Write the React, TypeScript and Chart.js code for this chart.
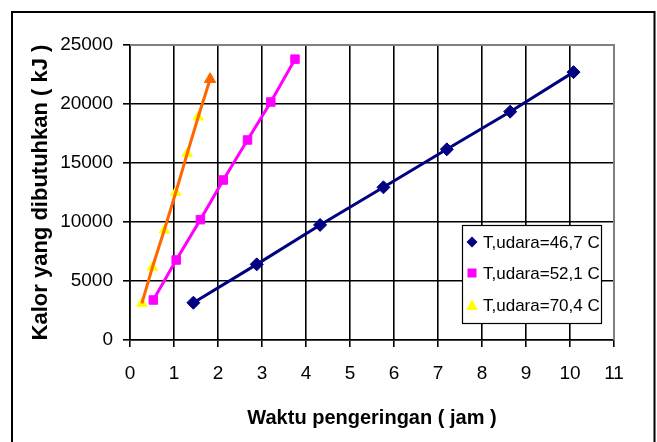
import React, { useEffect, useRef } from "react";
import { Chart, registerables } from "chart.js";

Chart.register(...registerables);

// Series 1: T,udara = 46,7 C
const hoursA = [1.44, 2.88, 4.32, 5.76, 7.2, 8.64, 10.08];
const kalorA = [3160, 6410, 9750, 12940, 16160, 19350, 22700];
// Series 2: T,udara = 52,1 C
const hoursB = [0.53, 1.05, 1.6, 2.12, 2.67, 3.2, 3.75];
const kalorB = [3390, 6780, 10200, 13560, 16950, 20170, 23800];
// Series 3: T,udara = 70,4 C
const hoursC = [0.27, 0.51, 0.78, 1.04, 1.3, 1.55, 1.82];
const kalorC = [3110, 6160, 9320, 12500, 15800, 18900, 22100];

const seriesLabels = ["T,udara=46,7 C", "T,udara=52,1 C", "T,udara=70,4 C"];
const xTitle = "Waktu pengeringan ( jam )";
const yTitle = "Kalor yang dibutuhkan ( kJ )";

const FONT = "'Liberation Sans', Arial, sans-serif";
const NAVY = "#000080";
const MAGENTA = "#FF00FF";
const YELLOW = "#FFFF00";
const ORANGE = "#FF6600";

const toPts = (xs: number[], ys: number[]) => xs.map((x, i) => ({ x, y: ys[i] }));

const framePlugin = {
  id: "frame",
  beforeDraw(chart: any) {
    const ctx = chart.ctx;
    ctx.save();
    ctx.fillStyle = "#fff";
    ctx.fillRect(0, 0, chart.width, chart.height);
    ctx.strokeStyle = "#000";
    ctx.lineWidth = 2;
    ctx.beginPath();
    ctx.moveTo(12, 442);
    ctx.lineTo(12, 12);
    ctx.lineTo(654.5, 12);
    ctx.lineTo(654.5, 442);
    ctx.stroke();
    ctx.restore();
  },
  beforeDatasetsDraw(chart: any) {
    const { ctx, chartArea: a } = chart;
    ctx.save();
    ctx.strokeStyle = "#808080";
    ctx.lineWidth = 2;
    ctx.beginPath();
    ctx.moveTo(a.left, a.top);
    ctx.lineTo(a.right, a.top);
    ctx.lineTo(a.right, a.bottom);
    ctx.stroke();
    ctx.restore();
  },
  afterDatasetsDraw(chart: any) {
    const ctx = chart.ctx;
    const bx = 462.5, by = 225.5, bw = 139, bh = 98;
    ctx.save();
    ctx.fillStyle = "#fff";
    ctx.fillRect(bx, by, bw, bh);
    ctx.strokeStyle = "#000";
    ctx.lineWidth = 1.2;
    ctx.strokeRect(bx, by, bw, bh);
    const rows = [242, 273, 305];
    const mx = 472;
    ctx.font = `17px ${FONT}`;
    ctx.textBaseline = "middle";
    ctx.textAlign = "left";
    rows.forEach((ry, i) => {
      ctx.beginPath();
      if (i === 0) {
        ctx.fillStyle = NAVY;
        ctx.moveTo(mx, ry - 5.5);
        ctx.lineTo(mx + 5.5, ry);
        ctx.lineTo(mx, ry + 5.5);
        ctx.lineTo(mx - 5.5, ry);
        ctx.closePath();
      } else if (i === 1) {
        ctx.fillStyle = MAGENTA;
        ctx.rect(mx - 4.5, ry - 4.5, 9, 9);
      } else {
        ctx.fillStyle = YELLOW;
        ctx.moveTo(mx, ry - 6);
        ctx.lineTo(mx + 5.5, ry + 5);
        ctx.lineTo(mx - 5.5, ry + 5);
        ctx.closePath();
      }
      ctx.fill();
      ctx.fillStyle = "#000";
      ctx.fillText(seriesLabels[i], 483, ry + 1);
    });
    ctx.restore();
  },
};

export default function App() {
  const ref = useRef<HTMLCanvasElement | null>(null);

  useEffect(() => {
    if (!ref.current) return;
    const lastIdx = hoursC.length - 1;
    const chart = new Chart(ref.current, {
      type: "scatter",
      data: {
        datasets: [
          {
            label: seriesLabels[0],
            data: toPts(hoursA, kalorA),
            showLine: true,
            borderColor: NAVY,
            backgroundColor: NAVY,
            borderWidth: 3,
            pointStyle: "rectRot",
            pointRadius: 6.5,
            pointBorderWidth: 1,
            pointBackgroundColor: NAVY,
            pointBorderColor: NAVY,
            order: 0,
          },
          {
            label: seriesLabels[1],
            data: toPts(hoursB, kalorB),
            showLine: true,
            borderColor: MAGENTA,
            backgroundColor: MAGENTA,
            borderWidth: 3,
            pointStyle: "rect",
            pointRadius: 6,
            pointBorderWidth: 1,
            pointBackgroundColor: MAGENTA,
            pointBorderColor: MAGENTA,
            order: 0,
          },
          {
            label: seriesLabels[2] + " line",
            data: toPts(hoursC, kalorC),
            showLine: true,
            borderColor: ORANGE,
            backgroundColor: ORANGE,
            borderWidth: 3,
            pointStyle: "triangle",
            pointRadius: hoursC.map((_, i) => (i === lastIdx ? 6.5 : 0)),
            pointBorderWidth: 1,
            pointBackgroundColor: ORANGE,
            pointBorderColor: ORANGE,
            order: 1,
          },
          {
            label: seriesLabels[2],
            data: toPts(hoursC, kalorC),
            showLine: false,
            borderColor: YELLOW,
            backgroundColor: YELLOW,
            pointStyle: "triangle",
            pointRadius: 6,
            pointBorderWidth: 1,
            pointBackgroundColor: YELLOW,
            pointBorderColor: YELLOW,
            order: 2,
          },
        ],
      },
      options: {
        responsive: false,
        animation: false,
        devicePixelRatio: 1,
        layout: { padding: { left: 0, top: 45, right: 43, bottom: 0 } },
        plugins: {
          legend: { display: false },
          tooltip: { enabled: false },
        },
        scales: {
          x: {
            type: "linear",
            min: 0,
            max: 11,
            afterFit: (s: any) => {
              s.height = 102;
            },
            ticks: {
              stepSize: 1,
              padding: 15,
              color: "#000",
              font: { family: FONT, size: 19 },
              callback: (v: any) => String(v),
            },
            grid: { color: "#000", lineWidth: 1.6, tickLength: 7 },
            border: { color: "#000", width: 1.6 },
            title: {
              display: true,
              text: xTitle,
              color: "#000",
              font: { family: FONT, size: 20, weight: "bold" },
              padding: { top: 0, bottom: 12 },
            },
          },
          y: {
            type: "linear",
            min: 0,
            max: 25000,
            afterFit: (s: any) => {
              s.width = 130;
            },
            ticks: {
              stepSize: 5000,
              padding: 10,
              color: "#000",
              font: { family: FONT, size: 19 },
              callback: (v: any) => String(v),
            },
            grid: { color: "#000", lineWidth: 1.6, tickLength: 7 },
            border: { color: "#000", width: 1.6 },
            title: {
              display: true,
              text: yTitle,
              color: "#000",
              font: { family: FONT, size: 22, weight: "bold" },
              padding: { top: 28, bottom: 0 },
            },
          },
        },
      },
      plugins: [framePlugin],
    } as any);
    return () => chart.destroy();
  }, []);

  return (
    <div style={{ position: "fixed", left: 0, top: 0, width: 657, height: 442 }}>
      <canvas ref={ref} width={657} height={442} style={{ width: 657, height: 442 }} />
    </div>
  );
}
